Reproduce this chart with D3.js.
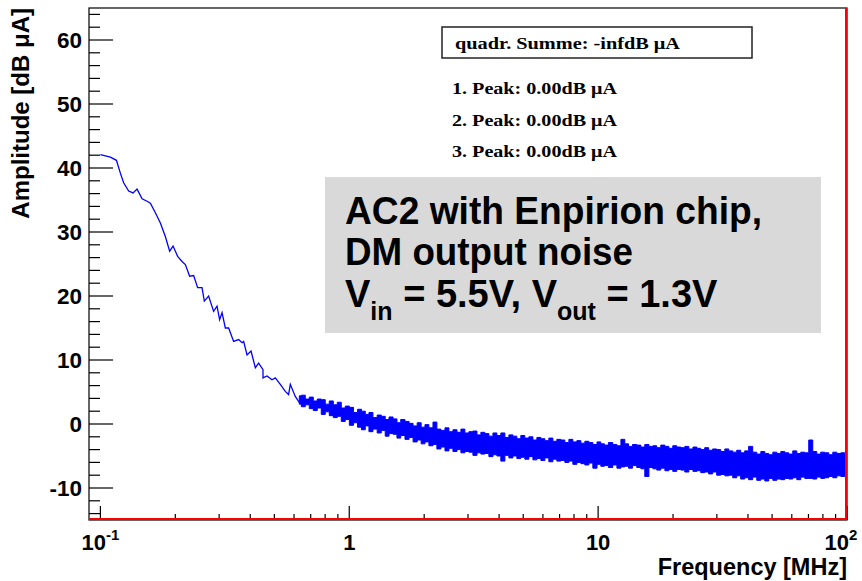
<!DOCTYPE html>
<html>
<head>
<meta charset="utf-8">
<script src="https://cdnjs.cloudflare.com/ajax/libs/d3/7.8.5/d3.min.js"></script>
<style>
  body { margin: 0; background: #fff; }
  svg { display: block; }
</style>
</head>
<body>
<div id="chart"></div>
<script>
// low frequency part, a single visible trace (MHz, dB uA)
const lineFreq = [0.1, 0.1097, 0.116, 0.1203, 0.124, 0.1299, 0.1353, 0.1404, 0.1471, 0.154,
  0.1588, 0.1663, 0.1742, 0.1824, 0.1898, 0.1959, 0.2044, 0.2129, 0.2195, 0.2284,
  0.237, 0.2459, 0.2561, 0.2616, 0.2722, 0.2851, 0.2942, 0.3014, 0.3082, 0.3177,
  0.3276, 0.343, 0.3593, 0.3709, 0.3764, 0.3884, 0.403, 0.4194, 0.4324, 0.4502,
  0.4502, 0.4671, 0.4893, 0.5045, 0.5284, 0.5534, 0.5705, 0.5796, 0.6069, 0.6316];
const lineAmp = [42.1, 41.7, 41.2, 39.2, 37.7, 36.4, 36.1, 36.7, 35.2, 34.8,
  34.5, 33.0, 31.4, 29.3, 27.0, 27.8, 26.2, 25.4, 24.9, 23.1,
  23.2, 21.3, 21.3, 19.2, 20.0, 17.6, 18.4, 16.3, 17.4, 15.0,
  15.0, 12.9, 13.2, 12.7, 12.9, 10.8, 11.4, 8.8, 9.5, 8.5,
  7.2, 7.5, 6.9, 7.2, 6.2, 5.1, 4.6, 6.2, 4.3, 3.3];

// dense noisy part, read as upper / lower edge of the band
const bandFreq = [0.630, 0.654, 0.678, 0.704, 0.730, 0.758, 0.786, 0.816, 0.847, 0.879,
  0.912, 0.946, 0.982, 1.02, 1.06, 1.10, 1.14, 1.18, 1.22, 1.27,
  1.32, 1.37, 1.42, 1.47, 1.53, 1.58, 1.64, 1.71, 1.77, 1.84,
  1.91, 1.98, 2.05, 2.13, 2.21, 2.29, 2.38, 2.47, 2.56, 2.66,
  2.76, 2.86, 2.97, 3.08, 3.20, 3.32, 3.44, 3.57, 3.71, 3.85,
  3.99, 4.14, 4.30, 4.46, 4.63, 4.80, 4.98, 5.17, 5.37, 5.57,
  5.78, 6.00, 6.22, 6.46, 6.70, 6.95, 7.21, 7.49, 7.77, 8.06,
  8.37, 8.68, 9.01, 9.35, 9.70, 10.1, 10.4, 10.8, 11.2, 11.7,
  12.1, 12.6, 13.0, 13.5, 14.0, 14.6, 15.1, 15.7, 16.3, 16.9,
  17.5, 18.2, 18.9, 19.6, 20.3, 21.1, 21.9, 22.7, 23.6, 24.5,
  25.4, 26.3, 27.3, 28.3, 29.4, 30.5, 31.7, 32.9, 34.1, 35.4,
  36.7, 38.1, 39.5, 41.0, 42.6, 44.2, 45.9, 47.6, 49.4, 51.3,
  53.2, 55.2, 57.3, 59.4, 61.7, 64.0, 66.4, 68.9, 71.5, 74.2,
  77.0, 79.9, 82.9, 86.1, 89.3, 92.7, 96.2, 99.8];
const bandHigh = [4.4, 4.5, 3.9, 4.2, 3.6, 3.9, 3.8, 3.1, 3.6, 3.0,
  3.4, 2.5, 2.8, 2.6, 1.8, 2.3, 2.0, 1.5, 1.8, 1.0,
  1.4, 1.2, 0.7, 1.1, 0.8, 0.2, 0.7, 0.4, 0.1, -0.3,
  0.2, -0.5, -0.1, -0.6, 0.3, -0.8, -1.0, -0.6, -1.2, -0.9,
  -1.3, -0.8, -1.4, -1.2, -1.1, -1.7, -1.3, -1.5, -1.9, -1.4,
  -1.8, -1.4, -2.1, -1.7, -1.9, -2.3, -1.8, -2.2, -2.0, -2.5,
  -2.1, -2.3, -2.6, -2.2, -2.7, -2.4, -2.5, -2.9, -2.4, -2.8,
  -2.6, -3.0, -2.7, -2.9, -3.2, -2.8, -3.1, -3.3, -2.9, -3.2,
  -3.4, -2.4, -3.1, -3.5, -3.2, -3.3, -3.6, -3.2, -3.5, -3.4,
  -3.7, -3.3, -3.5, -3.8, -3.4, -3.6, -3.7, -3.5, -3.9, -3.6,
  -3.8, -4.0, -3.7, -4.1, -3.9, -4.0, -4.3, -3.9, -4.2, -4.4,
  -4.1, -4.5, -4.2, -3.5, -4.4, -4.7, -4.3, -4.6, -4.8, -4.4,
  -4.6, -4.3, -4.5, -4.7, -4.2, -4.6, -4.4, -4.5, -2.5, -4.3,
  -4.7, -4.4, -4.5, -4.8, -4.4, -4.6, -4.5, -4.7];
const bandLow = [3.1, 2.7, 3.0, 2.4, 2.1, 2.5, 1.5, 1.9, 1.3, 1.0,
  1.2, 0.4, 0.7, -0.2, 0.2, -0.5, -0.9, -0.3, -1.2, -0.8,
  -1.4, -1.0, -1.9, -1.5, -1.6, -2.2, -1.8, -2.4, -2.1, -2.8,
  -2.5, -3.1, -2.8, -3.4, -3.2, -3.9, -3.6, -4.2, -3.8, -4.3,
  -4.0, -4.5, -4.3, -4.4, -4.9, -4.5, -4.7, -4.6, -5.1, -4.8,
  -5.0, -5.8, -4.9, -5.3, -5.0, -5.4, -5.2, -5.5, -5.1, -5.6,
  -5.4, -5.7, -5.3, -5.9, -5.5, -5.8, -5.7, -6.0, -5.8, -6.3,
  -6.0, -6.2, -6.4, -6.1, -6.9, -6.3, -6.6, -6.5, -6.8, -6.4,
  -6.9, -6.7, -6.6, -6.9, -6.5, -6.8, -7.0, -8.2, -6.8, -7.0,
  -7.2, -6.9, -7.3, -7.1, -7.4, -7.1, -7.2, -7.5, -7.1, -7.4,
  -7.3, -7.6, -7.5, -7.8, -7.5, -8.0, -7.9, -8.1, -8.0, -8.4,
  -8.1, -8.6, -8.4, -8.7, -8.3, -8.8, -8.6, -8.9, -8.5, -8.8,
  -8.6, -8.7, -8.5, -8.6, -8.4, -8.7, -8.3, -8.5, -8.5, -8.6,
  -8.3, -8.5, -8.4, -8.2, -8.4, -8.1, -8.2, -8.1];

const yTicks = [-10, 0, 10, 20, 30, 40, 50, 60];
const xTicks = [0.1, 1, 10, 100];
const xTickLabels = [["10", "-1"], ["1", ""], ["10", ""], ["10", "2"]];
const summeText = "quadr. Summe: -infdB \u03bcA";
const peakTexts = ["1. Peak: 0.00dB \u03bcA", "2. Peak: 0.00dB \u03bcA", "3. Peak: 0.00dB \u03bcA"];
const noteLines = ["AC2 with Enpirion chip,", "DM output noise"];

(function() {
  const width = 862;
  const height = 581;
  const frame = { left: 89, top: 8, right: 847, bottom: 520 };
  const sans = "'Liberation Sans', Arial, sans-serif";
  const serif = "'Liberation Serif', 'Times New Roman', serif";
  const blue = "#0000ff";

  const svg = d3.select("#chart").append("svg")
    .attr("width", width)
    .attr("height", height);

  const x = d3.scaleLog().domain([0.09, 100]).range([frame.left, frame.right]);
  const y = d3.scaleLinear().domain([-15, 65]).range([frame.bottom, frame.top]);

  svg.append("clipPath").attr("id", "plotClip")
    .append("rect")
    .attr("x", frame.left).attr("y", frame.top)
    .attr("width", frame.right - frame.left)
    .attr("height", frame.bottom - frame.top);

  // data
  const plot = svg.append("g").attr("clip-path", "url(#plotClip)");

  const bandData = bandFreq.map((f, i) => ({ f, hi: bandHigh[i], lo: bandLow[i] }));
  const band = d3.area()
    .curve(d3.curveStep)
    .x(d => x(d.f))
    .y0(d => y(d.lo))
    .y1(d => y(d.hi));
  plot.append("path")
    .datum(bandData)
    .attr("d", band)
    .attr("fill", blue)
    .attr("stroke", blue)
    .attr("stroke-width", 1);

  const lineData = lineFreq.map((f, i) => ({ f, a: lineAmp[i] }));
  const trace = d3.line().x(d => x(d.f)).y(d => y(d.a));
  plot.append("path")
    .datum(lineData)
    .attr("d", trace)
    .attr("fill", "none")
    .attr("stroke", blue)
    .attr("stroke-width", 1.3);

  // frame
  svg.append("rect")
    .attr("x", frame.left).attr("y", frame.top)
    .attr("width", frame.right - frame.left)
    .attr("height", frame.bottom - frame.top)
    .attr("fill", "none")
    .attr("stroke", "#000")
    .attr("stroke-width", 1.2);

  // y ticks
  const yAxis = svg.append("g").attr("stroke", "#000").attr("stroke-width", 1.2);
  d3.range(-14, 65, 2).forEach(v => {
    const major = v % 10 === 0;
    yAxis.append("line")
      .attr("x1", frame.left).attr("x2", frame.left + (major ? 24 : 11))
      .attr("y1", y(v)).attr("y2", y(v));
  });
  svg.append("g").selectAll("text")
    .data(yTicks)
    .enter()
    .append("text")
    .attr("x", 82)
    .attr("y", d => y(d))
    .attr("dy", "0.36em")
    .attr("text-anchor", "end")
    .style("font-family", sans)
    .style("font-weight", "bold")
    .style("font-size", "22.5px")
    .text(d => d);

  // x ticks
  const xAxis = svg.append("g").attr("stroke", "#000").attr("stroke-width", 1.2);
  [0.1, 1, 10].forEach(dec => {
    d3.range(1, 10).forEach(m => {
      const v = dec * m;
      const major = m === 1;
      xAxis.append("line")
        .attr("x1", x(v)).attr("x2", x(v))
        .attr("y1", frame.bottom).attr("y2", frame.bottom - (major ? 14 : 6));
    });
  });
  xAxis.append("line")
    .attr("x1", x(100)).attr("x2", x(100))
    .attr("y1", frame.bottom).attr("y2", frame.bottom - 14);

  const xLabels = svg.append("g").selectAll("text")
    .data(xTicks)
    .enter()
    .append("text")
    .attr("x", (d, i) => x(d) + (i === 3 ? -6 : 0))
    .attr("y", 550)
    .attr("text-anchor", "middle")
    .style("font-family", sans)
    .style("font-weight", "bold")
    .style("font-size", "22px");
  xLabels.append("tspan").text((d, i) => xTickLabels[i][0]);
  xLabels.append("tspan")
    .attr("dy", -10)
    .style("font-size", "15px")
    .text((d, i) => xTickLabels[i][1]);

  // red histogram edges along bottom and right
  svg.append("path")
    .attr("d", `M${frame.left},${frame.bottom - 1}H${frame.right - 1}V${frame.top}`)
    .attr("fill", "none")
    .attr("stroke", "#ff0000")
    .attr("stroke-width", 2);

  // axis titles
  svg.append("text")
    .attr("x", frame.right)
    .attr("y", 575)
    .attr("text-anchor", "end")
    .style("font-family", sans)
    .style("font-weight", "bold")
    .style("font-size", "23.5px")
    .text("Frequency [MHz]");

  svg.append("text")
    .attr("transform", `translate(29,${frame.top}) rotate(-90)`)
    .attr("text-anchor", "end")
    .style("font-family", sans)
    .style("font-weight", "bold")
    .style("font-size", "24px")
    .text("Amplitude [dB \u03bcA]");

  // legend pave
  svg.append("rect")
    .attr("x", 442).attr("y", 27)
    .attr("width", 310).attr("height", 31)
    .attr("fill", "#fff")
    .attr("stroke", "#222")
    .attr("stroke-width", 1.5);
  svg.append("text")
    .attr("x", 455).attr("y", 49)
    .attr("textLength", 225)
    .attr("lengthAdjust", "spacingAndGlyphs")
    .style("font-family", serif)
    .style("font-weight", "bold")
    .style("font-size", "16px")
    .text(summeText);
  svg.append("g").selectAll("text")
    .data(peakTexts)
    .enter()
    .append("text")
    .attr("x", 452)
    .attr("y", (d, i) => 94 + i * 31.5)
    .attr("textLength", 165)
    .attr("lengthAdjust", "spacingAndGlyphs")
    .style("font-family", serif)
    .style("font-weight", "bold")
    .style("font-size", "16px")
    .text(d => d);

  // gray annotation box
  svg.append("rect")
    .attr("x", 325).attr("y", 177)
    .attr("width", 496).attr("height", 156)
    .attr("fill", "#d9d9d9");

  const noteWidths = [417, 288];
  svg.append("g").selectAll("text")
    .data(noteLines)
    .enter()
    .append("text")
    .attr("x", 345)
    .attr("y", (d, i) => 224 + i * 41)
    .attr("textLength", (d, i) => noteWidths[i])
    .attr("lengthAdjust", "spacingAndGlyphs")
    .style("font-family", sans)
    .style("font-weight", "bold")
    .style("font-size", "38px")
    .text(d => d);

  const volt = svg.append("text")
    .attr("x", 345)
    .attr("y", 307)
    .style("font-family", sans)
    .style("font-weight", "bold")
    .style("font-size", "38px");
  volt.append("tspan").text("V");
  volt.append("tspan").attr("dy", 13).style("font-size", "25px").text("in");
  volt.append("tspan").attr("dy", -13).text(" = 5.5V, V");
  volt.append("tspan").attr("dy", 13).style("font-size", "25px").text("out");
  volt.append("tspan").attr("dy", -13).text(" = 1.3V");
})();
</script>
</body>
</html>
